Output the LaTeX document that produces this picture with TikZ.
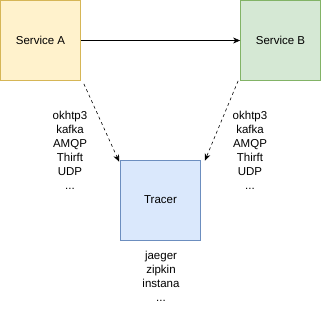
\documentclass[tikz,border=0pt]{standalone}
\usepackage{fontspec}
\setmainfont{Liberation Sans}
\usetikzlibrary{arrows.meta}
\definecolor{yfill}{HTML}{FFF2CC}\definecolor{ydraw}{HTML}{D6B656}
\definecolor{gfill}{HTML}{D5E8D4}\definecolor{gdraw}{HTML}{82B366}
\definecolor{bfill}{HTML}{DAE8FC}\definecolor{bdraw}{HTML}{6C8EBF}
\begin{document}
\begin{tikzpicture}[x=1pt,y=-1pt,
  box/.style={minimum width=80pt,minimum height=80pt,inner sep=0pt,font=\fontsize{11.5}{13}\selectfont,line width=0.8pt},
  lbl/.style={align=center,font=\fontsize{11.5}{14}\selectfont},
  arr/.style={-{Stealth[length=7pt,width=6pt]},line width=0.6pt},
  darr/.style={arr,dash pattern=on 3pt off 3pt}]
\useasboundingbox (0,0) rectangle (329,311);
\node[box,fill=yfill,draw=ydraw] (a) at (40.5,40.5) {Service A};
\node[box,fill=gfill,draw=gdraw] (b) at (280.5,40.5) {Service B};
\node[box,fill=bfill,draw=bdraw] (t) at (160.5,200) {Tracer};
\node[lbl] (la) at (70,150) {okhtp3\\kafka\\AMQP\\Thirft\\UDP\\...};
\node[lbl] (lb) at (250,150) {okhtp3\\kafka\\AMQP\\Thirft\\UDP\\...};
\node[lbl] (lt) at (161,276) {jaeger\\zipkin\\instana\\...};
\draw[arr] (a.east) -- (b.west);
\draw[darr] (a.south east) ++(3,3) coordinate (a1) -- ([xshift=-1pt,yshift=-2pt]t.north west);
\draw[darr] (b.south west) ++(-2,0) coordinate (b1) -- ([xshift=4pt,yshift=-1pt]t.north east);
\end{tikzpicture}
\end{document}
